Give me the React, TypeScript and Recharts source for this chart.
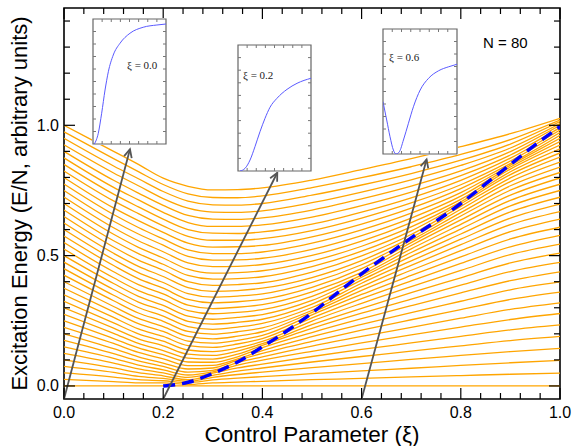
import React from 'react'
import { LineChart, Line, XAxis, YAxis, ReferenceLine, ReferenceArea } from 'recharts'

// control parameter values at which the level energies were read
const xiSamples = [0, 0.1, 0.15, 0.2, 0.25, 0.3, 0.35, 0.4, 0.5, 0.6, 0.7, 0.8, 0.9, 1.0]

// excitation energy of levels 0..40 at each xi sample
const levelsXi000 = [0, 0.025, 0.05, 0.075, 0.1, 0.125, 0.15, 0.175, 0.2, 0.225, 0.25, 0.275, 0.3, 0.325, 0.35, 0.375, 0.4, 0.425, 0.45, 0.475, 0.5, 0.525, 0.55, 0.575, 0.6, 0.625, 0.65, 0.675, 0.7, 0.725, 0.75, 0.775, 0.8, 0.825, 0.85, 0.875, 0.9, 0.925, 0.95, 0.975, 1.0]
const levelsXi010 = [0, 0.017, 0.034, 0.052, 0.069, 0.088, 0.106, 0.124, 0.143, 0.163, 0.182, 0.202, 0.222, 0.242, 0.263, 0.284, 0.305, 0.327, 0.348, 0.37, 0.393, 0.415, 0.438, 0.462, 0.485, 0.509, 0.533, 0.557, 0.582, 0.607, 0.632, 0.658, 0.683, 0.71, 0.736, 0.762, 0.789, 0.817, 0.844, 0.872, 0.9]
const levelsXi015 = [0, 0.012, 0.024, 0.037, 0.051, 0.066, 0.08, 0.096, 0.112, 0.129, 0.146, 0.163, 0.181, 0.2, 0.219, 0.239, 0.259, 0.28, 0.301, 0.322, 0.344, 0.366, 0.389, 0.412, 0.435, 0.459, 0.483, 0.508, 0.532, 0.557, 0.583, 0.608, 0.634, 0.661, 0.687, 0.714, 0.74, 0.768, 0.795, 0.822, 0.85]
const levelsXi020 = [0, 0.012, 0.02, 0.029, 0.039, 0.05, 0.062, 0.075, 0.088, 0.104, 0.12, 0.136, 0.154, 0.172, 0.19, 0.209, 0.228, 0.248, 0.268, 0.289, 0.309, 0.331, 0.353, 0.375, 0.397, 0.42, 0.444, 0.467, 0.491, 0.515, 0.54, 0.564, 0.589, 0.614, 0.64, 0.666, 0.693, 0.719, 0.746, 0.773, 0.797]
const levelsXi025 = [0, 0.006, 0.013, 0.018, 0.024, 0.033, 0.042, 0.053, 0.065, 0.078, 0.092, 0.107, 0.122, 0.138, 0.155, 0.172, 0.19, 0.209, 0.228, 0.248, 0.268, 0.289, 0.31, 0.332, 0.354, 0.377, 0.4, 0.424, 0.448, 0.472, 0.497, 0.522, 0.548, 0.574, 0.6, 0.627, 0.654, 0.682, 0.709, 0.737, 0.766]
const levelsXi030 = [0, 0.012, 0.023, 0.033, 0.041, 0.049, 0.054, 0.06, 0.069, 0.079, 0.091, 0.103, 0.117, 0.132, 0.148, 0.164, 0.181, 0.199, 0.217, 0.237, 0.256, 0.277, 0.297, 0.319, 0.341, 0.363, 0.386, 0.41, 0.433, 0.458, 0.483, 0.508, 0.533, 0.559, 0.586, 0.612, 0.64, 0.667, 0.695, 0.723, 0.752]
const levelsXi035 = [0, 0.015, 0.03, 0.044, 0.057, 0.069, 0.08, 0.09, 0.099, 0.104, 0.112, 0.122, 0.134, 0.146, 0.161, 0.175, 0.191, 0.208, 0.226, 0.244, 0.263, 0.282, 0.302, 0.323, 0.345, 0.366, 0.389, 0.412, 0.435, 0.459, 0.484, 0.508, 0.534, 0.559, 0.585, 0.612, 0.639, 0.666, 0.694, 0.722, 0.753]
const levelsXi040 = [0, 0.018, 0.036, 0.053, 0.069, 0.084, 0.099, 0.112, 0.125, 0.136, 0.147, 0.156, 0.162, 0.171, 0.182, 0.194, 0.208, 0.223, 0.24, 0.256, 0.274, 0.293, 0.312, 0.332, 0.353, 0.375, 0.396, 0.419, 0.442, 0.466, 0.49, 0.514, 0.539, 0.565, 0.591, 0.618, 0.645, 0.672, 0.7, 0.729, 0.76]
const levelsXi050 = [0, 0.024, 0.047, 0.07, 0.092, 0.113, 0.133, 0.153, 0.171, 0.189, 0.205, 0.221, 0.235, 0.249, 0.261, 0.273, 0.282, 0.29, 0.301, 0.314, 0.328, 0.344, 0.361, 0.378, 0.397, 0.416, 0.437, 0.458, 0.479, 0.501, 0.524, 0.548, 0.572, 0.596, 0.621, 0.648, 0.675, 0.703, 0.732, 0.761, 0.79]
const levelsXi060 = [0, 0.029, 0.058, 0.086, 0.113, 0.14, 0.165, 0.19, 0.214, 0.236, 0.258, 0.279, 0.298, 0.317, 0.335, 0.351, 0.367, 0.381, 0.394, 0.406, 0.417, 0.425, 0.436, 0.45, 0.465, 0.481, 0.499, 0.517, 0.536, 0.556, 0.577, 0.599, 0.621, 0.644, 0.667, 0.692, 0.718, 0.744, 0.771, 0.799, 0.83]
const levelsXi070 = [0, 0.035, 0.068, 0.102, 0.134, 0.165, 0.196, 0.225, 0.254, 0.281, 0.308, 0.333, 0.358, 0.381, 0.403, 0.424, 0.444, 0.463, 0.48, 0.497, 0.512, 0.526, 0.539, 0.55, 0.559, 0.569, 0.581, 0.595, 0.61, 0.627, 0.644, 0.663, 0.682, 0.702, 0.722, 0.744, 0.767, 0.791, 0.815, 0.841, 0.872]
const levelsXi080 = [0, 0.04, 0.079, 0.117, 0.154, 0.19, 0.226, 0.26, 0.293, 0.325, 0.357, 0.387, 0.415, 0.443, 0.47, 0.495, 0.519, 0.542, 0.563, 0.583, 0.602, 0.62, 0.637, 0.652, 0.665, 0.678, 0.689, 0.699, 0.706, 0.716, 0.728, 0.742, 0.757, 0.772, 0.789, 0.807, 0.825, 0.846, 0.866, 0.888, 0.918]
const levelsXi090 = [0, 0.045, 0.089, 0.132, 0.174, 0.215, 0.255, 0.294, 0.332, 0.369, 0.404, 0.439, 0.472, 0.504, 0.534, 0.564, 0.592, 0.619, 0.644, 0.668, 0.691, 0.712, 0.732, 0.751, 0.768, 0.784, 0.798, 0.811, 0.822, 0.832, 0.84, 0.847, 0.853, 0.863, 0.874, 0.886, 0.899, 0.913, 0.928, 0.945, 0.968]
const levelsXi100 = [0, 0.049, 0.098, 0.144, 0.19, 0.234, 0.278, 0.319, 0.36, 0.399, 0.438, 0.474, 0.51, 0.544, 0.578, 0.609, 0.64, 0.669, 0.698, 0.724, 0.75, 0.774, 0.798, 0.819, 0.84, 0.859, 0.878, 0.894, 0.91, 0.924, 0.938, 0.95, 0.962, 0.972, 0.982, 0.991, 1.0, 1.007, 1.014, 1.02, 1.027]

// blue dashed curve (critical energy)
const criticalXi = [0.2, 0.25, 0.3, 0.35, 0.4, 0.45, 0.5, 0.55, 0.6, 0.65, 0.7, 0.75, 0.8, 0.85, 0.9, 0.95, 1.0]
const criticalE = [0, 0.014, 0.048, 0.092, 0.15, 0.212, 0.28, 0.355, 0.43, 0.5, 0.568, 0.632, 0.7, 0.775, 0.85, 0.925, 0.995]

// inset curves
const insetA_x = [0.15, 0.58, 0.95, 1.32, 1.68, 2.22, 2.96, 4.05, 5.5, 7.0, 8.0]
const insetA_y = [0, 0.86, 2.46, 4.32, 5.78, 7.12, 8.06, 8.86, 9.34, 9.52, 9.6]
const insetB_x = [0.22, 0.77, 1.32, 1.86, 2.41, 2.96, 3.51, 4.27, 5.37, 6.47, 8.0]
const insetB_y = [0, 0.21, 0.87, 1.93, 3.12, 4.18, 5.06, 5.77, 6.48, 6.96, 7.36]
const insetC_x = [0, 0.4, 0.76, 1.12, 1.41, 1.77, 2.21, 2.75, 3.29, 4.02, 4.93, 6.01, 7.1, 8.0]
const insetC_y = [4.18, 2.72, 1.38, 0.32, 0, 0.18, 1.12, 2.46, 3.78, 5.12, 6.06, 6.66, 6.98, 7.18]

const xTicks = [0, 0.04, 0.08, 0.12, 0.16, 0.2, 0.24, 0.28, 0.32, 0.36, 0.4, 0.44, 0.48, 0.52, 0.56, 0.6, 0.64, 0.68, 0.72, 0.76, 0.8, 0.84, 0.88, 0.92, 0.96, 1.0]
const xLabels = [0, 0.2, 0.4, 0.6, 0.8, 1.0]
const yTicks = [0, 0.1, 0.2, 0.3, 0.4, 0.5, 0.6, 0.7, 0.8, 0.9, 1.0, 1.1, 1.2, 1.3, 1.4]
const yLabels = [0, 0.5, 1.0]
const insetXTicks = [1, 2, 3, 4, 5, 6, 7]
const insetYTicks = [1, 2, 3, 4, 5, 6, 7, 8, 9]

const levelColumns = [levelsXi000, levelsXi010, levelsXi015, levelsXi020, levelsXi025, levelsXi030, levelsXi035, levelsXi040, levelsXi050, levelsXi060, levelsXi070, levelsXi080, levelsXi090, levelsXi100]
const levelIds = levelsXi000.map((_, m) => m)

const levelRows = xiSamples.map((xi, i) => {
  const row: Record<string, number> = { xi }
  levelColumns[i].forEach((e, m) => { row['l' + m] = e })
  return row
})
const criticalRows = criticalXi.map((xi, i) => ({ xi, e: criticalE[i] }))

// arrows from the x axis up to the insets (data units)
const arrows = [
  { from: { x: 0, y: -0.05 }, to: { x: 0.133, y: 0.908 } },
  { from: { x: 0.2, y: -0.05 }, to: { x: 0.43, y: 0.818 } },
  { from: { x: 0.6, y: -0.05 }, to: { x: 0.731, y: 0.869 } }
]

const SANS = '"Liberation Sans", Arial, Helvetica, sans-serif'
const SERIF = '"Liberation Serif", "Times New Roman", serif'
const ORANGE = '#ffa500'

function onStep(v: number, step: number) {
  const r = v / step
  return Math.abs(r - Math.round(r)) < 1e-6
}

// short marks at both ends of a vertical reference line (bottom + top frame)
function vTicks(len: number, color: string, width: number) {
  return function VTick(p: any) {
    const top = Math.min(p.y1, p.y2)
    const bot = Math.max(p.y1, p.y2)
    return (
      <g>
        <line x1={p.x1} y1={bot} x2={p.x1} y2={bot - len} stroke={color} strokeWidth={width} />
        <line x1={p.x1} y1={top} x2={p.x1} y2={top + len} stroke={color} strokeWidth={width} />
      </g>
    )
  }
}

// short marks at both ends of a horizontal reference line (left + right frame)
function hTicks(len: number, color: string, width: number) {
  return function HTick(p: any) {
    const l = Math.min(p.x1, p.x2)
    const r = Math.max(p.x1, p.x2)
    return (
      <g>
        <line x1={l} y1={p.y1} x2={l + len} y2={p.y1} stroke={color} strokeWidth={width} />
        <line x1={r} y1={p.y1} x2={r - len} y2={p.y1} stroke={color} strokeWidth={width} />
      </g>
    )
  }
}

function XTickLabel(props: any) {
  const { x, y, payload } = props
  return (
    <text x={x} y={y + 19} textAnchor="middle" fontSize={16} fontFamily={SANS} fill="#000">
      {Number(payload.value).toFixed(1)}
    </text>
  )
}

function YTickLabel(props: any) {
  const { x, y, payload } = props
  return (
    <text x={x - 5} y={y} textAnchor="end" dominantBaseline="central" fontSize={16} fontFamily={SANS} fill="#000">
      {Number(payload.value).toFixed(1)}
    </text>
  )
}

function XTitle(props: any) {
  const vb = props.viewBox || { x: 64, y: 399, width: 496, height: 47 }
  return (
    <text x={vb.x + vb.width / 2} y={vb.y + 43} textAnchor="middle" fontSize={22.5} fontFamily={SANS} fill="#000">
      Control Parameter (ξ)
    </text>
  )
}

function YTitle(props: any) {
  const vb = props.viewBox || { x: 0, y: 8, width: 64, height: 391 }
  const cx = 19
  const cy = vb.y + vb.height / 2
  return (
    <text x={cx} y={cy} transform={`rotate(-90 ${cx} ${cy})`} textAnchor="middle" dominantBaseline="central" fontSize={22} fontFamily={SANS} fill="#000">
      Excitation Energy (E/N, arbitrary units)
    </text>
  )
}

function ArrowShape(props: any) {
  const { x1, y1, x2, y2 } = props
  const ang = Math.atan2(y2 - y1, x2 - x1)
  const head = 9
  const spread = 0.45
  const ax = x2 - head * Math.cos(ang - spread)
  const ay = y2 - head * Math.sin(ang - spread)
  const bx = x2 - head * Math.cos(ang + spread)
  const by = y2 - head * Math.sin(ang + spread)
  return (
    <g>
      <line x1={x1} y1={y1} x2={x2} y2={y2} stroke="#555" strokeWidth={1.8} />
      <polyline points={`${ax},${ay} ${x2},${y2} ${bx},${by}`} fill="none" stroke="#555" strokeWidth={1.8} />
    </g>
  )
}

interface InsetProps {
  xs: number[]
  ys: number[]
  caption: string
  left: number
  top: number
  width: number
  height: number
  capLeft: number
  capTop: number
}

function Inset({ xs, ys, caption, left, top, width, height, capLeft, capTop }: InsetProps) {
  const data = xs.map((x, i) => ({ x, y: ys[i] }))
  return (
    <div style={{ position: 'absolute', left: left - 1, top: top - 1, width: width + 2, height: height + 2, background: '#fff' }}>
      <LineChart width={width + 2} height={height + 2} data={data} margin={{ top: 1, right: 1, bottom: 1, left: 1 }}>
        <XAxis dataKey="x" type="number" domain={[0, 8]} hide allowDataOverflow />
        <YAxis type="number" domain={[0, 10]} hide allowDataOverflow />
        <Line dataKey="y" type="monotone" stroke="#5a5aff" strokeWidth={1} dot={false} isAnimationActive={false} />
        {insetXTicks.map((v) => (
          <ReferenceLine key={'x' + v} x={v} ifOverflow="visible" shape={vTicks(3, '#777', 1)} />
        ))}
        {insetYTicks.map((v) => (
          <ReferenceLine key={'y' + v} y={v} ifOverflow="visible" shape={hTicks(3, '#777', 1)} />
        ))}
        <ReferenceArea x1={0} x2={8} y1={0} y2={10} ifOverflow="visible" fill="none" fillOpacity={0} stroke="#666" strokeWidth={1.2} />
      </LineChart>
      <div style={{ position: 'absolute', left: capLeft, top: capTop, fontFamily: SERIF, fontSize: 11, lineHeight: 1, color: '#222', whiteSpace: 'nowrap' }}>
        {caption}
      </div>
    </div>
  )
}

export default function App(): React.ReactElement {
  return (
    <div style={{ position: 'absolute', left: 0, top: 0, width: 575, height: 446, background: '#fff' }}>
      <LineChart width={575} height={446} data={levelRows} margin={{ top: 8, right: 15, bottom: 0, left: 0 }}>
        <XAxis dataKey="xi" type="number" domain={[0, 1]} ticks={xLabels} interval={0} height={47} tickSize={0} tickMargin={0} tickLine={false} axisLine={false} tick={XTickLabel} allowDataOverflow label={XTitle} />
        <YAxis type="number" domain={[-0.05, 1.45]} ticks={yLabels} interval={0} width={64} tickSize={0} tickMargin={0} tickLine={false} axisLine={false} tick={YTickLabel} allowDataOverflow label={YTitle} />
        {levelIds.map((m) => (
          <Line key={m} dataKey={'l' + m} type="monotone" stroke={ORANGE} strokeWidth={1.3} dot={false} isAnimationActive={false} />
        ))}
        <Line data={criticalRows} dataKey="e" type="monotone" stroke="#0000ff" strokeWidth={3.5} strokeDasharray="12 7" dot={false} isAnimationActive={false} />
        {arrows.map((a, i) => (
          <ReferenceLine key={'a' + i} segment={[a.from, a.to]} ifOverflow="visible" shape={ArrowShape} />
        ))}
        {xTicks.map((v) => (
          <ReferenceLine key={'xt' + v} x={v} ifOverflow="visible" shape={vTicks(onStep(v, 0.2) ? 11 : 6, '#000', 1.2)} />
        ))}
        {yTicks.map((v) => (
          <ReferenceLine key={'yt' + v} y={v} ifOverflow="visible" shape={hTicks(onStep(v, 0.5) ? 11 : 6, '#000', 1.2)} />
        ))}
        <ReferenceArea x1={0} x2={1} y1={-0.05} y2={1.45} ifOverflow="visible" fill="none" fillOpacity={0} stroke="#000" strokeWidth={1.6} />
      </LineChart>
      <Inset xs={insetA_x} ys={insetA_y} caption="ξ = 0.0" left={93} top={19} width={73} height={125} capLeft={35} capTop={42} />
      <Inset xs={insetB_x} ys={insetB_y} caption="ξ = 0.2" left={238} top={45} width={73} height={126} capLeft={6} capTop={26} />
      <Inset xs={insetC_x} ys={insetC_y} caption="ξ = 0.6" left={383} top={29} width={74} height={125} capLeft={7} capTop={24} />
      <div style={{ position: 'absolute', left: 483, top: 35, fontFamily: SANS, fontSize: 15, lineHeight: 1, color: '#000', whiteSpace: 'nowrap' }}>
        N = 80
      </div>
    </div>
  )
}
